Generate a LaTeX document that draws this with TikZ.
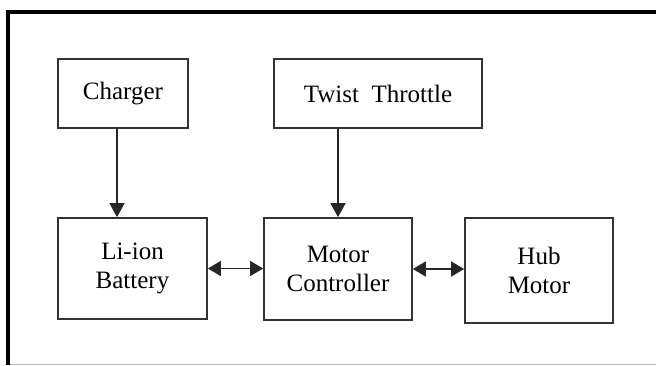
\documentclass[tikz,border=0pt]{standalone}
\usepackage{fontspec}
\setmainfont{Liberation Serif}
\usetikzlibrary{arrows.meta}
\begin{document}
\begin{tikzpicture}[x=1pt,y=-1pt,
  block/.style={draw=black!80, line width=1.7pt, fill=white, inner sep=0pt,
    align=center, font=\fontsize{25}{29}\selectfont},
  flow/.style={line width=1.3pt, draw=black!85,
    -{Triangle[length=14pt,width=15pt]}},
  link/.style={line width=1.4pt, draw=black!85,
    {Triangle[length=13pt,width=15pt]}-{Triangle[length=13pt,width=15pt]}}]
  \useasboundingbox (0,0) rectangle (656,365);
  % page frame
  \draw[line width=4pt] (8,365) -- (8,11.5) -- (656,11.5);
  \draw[black!25, line width=1pt] (10,364.5) -- (656,364.5);
  % blocks
  \node[block, minimum width=130pt, minimum height=69pt]  (chg)  at (123,93.5)   {Charger};
  \node[block, minimum width=208pt, minimum height=69pt]  (thr)  at (378,93.5)   {Twist\ \ Throttle};
  \node[block, minimum width=149pt, minimum height=101pt] (bat)  at (132.5,268.5) {Li-ion\\Battery};
  \node[block, minimum width=148pt, minimum height=102pt] (ctrl) at (338,269)    {Motor\\Controller};
  \node[block, minimum width=148pt, minimum height=105pt] (hub)  at (539,270.5)  {Hub\\Motor};
  % connectors
  \coordinate (chgout) at ([xshift=-6pt]chg.south);
  \draw[flow] (chgout) -- (chgout |- bat.north);
  \draw[flow] (ctrl.north |- thr.south) -- (ctrl.north);
  \draw[link] (bat.east) -- (bat.east -| ctrl.west);
  \draw[link] (ctrl.east) -- (ctrl.east -| hub.west);
\end{tikzpicture}
\end{document}
